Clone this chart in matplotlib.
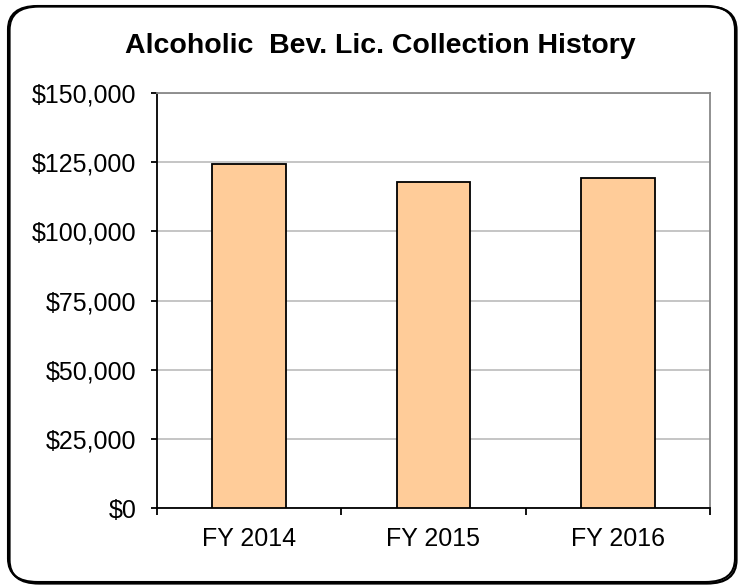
import matplotlib
matplotlib.use("Agg")
import matplotlib.pyplot as plt
from matplotlib.patches import FancyBboxPatch
from matplotlib.ticker import FuncFormatter

categories = ["FY 2014", "FY 2015", "FY 2016"]
values = [124300, 118000, 119200]
yticks = [0, 25000, 50000, 75000, 100000, 125000, 150000]

plt.rcParams['font.family'] = ['Liberation Sans', 'DejaVu Sans']

W, H = 738, 587
fig = plt.figure(figsize=(W / 100, H / 100), dpi=100)
# slightly offset second stroke gives the heavier bottom/right edge
shadow = FancyBboxPatch((9.5 / W, 3.5 / H), 727 / W, 577 / H,
                        boxstyle="round,pad=0,rounding_size=0.04",
                        transform=fig.transFigure, facecolor="none",
                        edgecolor="black", linewidth=1.6, zorder=4)
fig.patches.append(shadow)
border = FancyBboxPatch((8 / W, 5 / H), 727 / W, 576 / H,
                        boxstyle="round,pad=0,rounding_size=0.04",
                        transform=fig.transFigure, facecolor="none",
                        edgecolor="black", linewidth=1.5, zorder=5)
fig.patches.append(border)

ax = fig.add_axes([157 / W, 1 - 508 / H, (710 - 157) / W, (508 - 93) / H])
x = range(len(categories))
ax.bar(x, values, width=0.4, color="#ffcc99", edgecolor="black", linewidth=1.3, zorder=3)
ax.set_xlim(-0.5, 2.5)
ax.set_ylim(0, 150000)
ax.set_yticks(yticks)
ax.yaxis.set_major_formatter(FuncFormatter(lambda v, p: "${:,.0f}".format(v)))
ax.set_xticks(list(x))
ax.set_xticklabels(categories)
ax.tick_params(axis='x', length=0, labelsize=18, pad=14)
ax.set_xticks([-0.5, 0.5, 1.5, 2.5], minor=True)
ax.tick_params(axis='x', which='minor', length=5, width=1.3, direction='out')
ax.tick_params(axis='y', length=4.5, width=1.3, labelsize=18, direction='out', pad=10.5)
ax.grid(axis='y', color="#c0c0c0", linewidth=1.3, zorder=0)
ax.set_axisbelow(True)
for s in ['top', 'right']:
    ax.spines[s].set_color("#888888")
    ax.spines[s].set_linewidth(1.3)
for s in ['left', 'bottom']:
    ax.spines[s].set_color("black")
    ax.spines[s].set_linewidth(1.3)

fig.text(0.515, 0.922, "Alcoholic  Bev. Lic. Collection History", ha='center', va='center',
         fontsize=20.5, fontweight='bold')

fig.savefig("out.png", dpi=100)
